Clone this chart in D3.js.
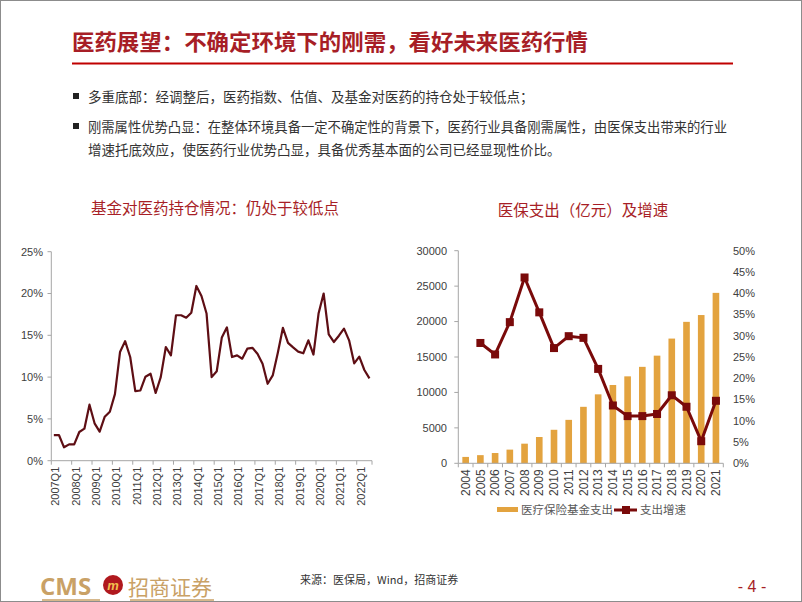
<!DOCTYPE html>
<html><head><meta charset="utf-8">
<script src="https://cdn.jsdelivr.net/npm/d3@7"></script>
<style>
html,body{margin:0;padding:0;background:#fff;}
svg{display:block;}
</style></head>
<body>
<svg id="c" width="802" height="602"></svg>
<script>
// ---------- DATA ----------
const quarters = [
"2007Q1","2007Q2","2007Q3","2007Q4","2008Q1","2008Q2","2008Q3","2008Q4",
"2009Q1","2009Q2","2009Q3","2009Q4","2010Q1","2010Q2","2010Q3","2010Q4",
"2011Q1","2011Q2","2011Q3","2011Q4","2012Q1","2012Q2","2012Q3","2012Q4",
"2013Q1","2013Q2","2013Q3","2013Q4","2014Q1","2014Q2","2014Q3","2014Q4",
"2015Q1","2015Q2","2015Q3","2015Q4","2016Q1","2016Q2","2016Q3","2016Q4",
"2017Q1","2017Q2","2017Q3","2017Q4","2018Q1","2018Q2","2018Q3","2018Q4",
"2019Q1","2019Q2","2019Q3","2019Q4","2020Q1","2020Q2","2020Q3","2020Q4",
"2021Q1","2021Q2","2021Q3","2021Q4","2022Q1","2022Q2","2022Q3"];
const fundHolding = [
3.07,3.07,1.6,1.95,1.95,3.43,3.83,6.7,
4.47,3.47,5.26,5.86,7.97,13.0,14.3,12.4,
8.33,8.4,10.05,10.4,8.1,10.0,13.6,12.6,
17.4,17.4,17.1,17.7,20.9,19.7,17.6,10.0,
10.7,14.75,15.95,12.4,12.6,12.2,13.4,13.5,
12.8,11.6,9.2,10.2,12.9,15.9,14.1,13.55,
13.05,12.85,14.4,12.7,17.6,20.0,15.1,14.2,
14.95,15.8,14.4,11.65,12.45,10.85,9.85];
const leftTicks = ["0%","5%","10%","15%","20%","25%"];

const years = ["2004","2005","2006","2007","2008","2009","2010","2011","2012",
"2013","2014","2015","2016","2017","2018","2019","2020","2021"];
const spending = [900,1150,1450,1930,2770,3710,4730,6130,7970,
9730,11050,12270,13610,15190,17600,19960,20920,24050];
const growth = [null,28.3,25.6,33.2,43.7,35.5,27.1,29.9,29.5,
22.2,13.6,11.1,11.1,11.6,16.0,13.3,5.2,14.7];
const spendTicks = [0,5000,10000,15000,20000,25000,30000];
const growthTicks = ["0%","5%","10%","15%","20%","25%","30%","35%","40%","45%","50%"];

const titleText = "医药展望：不确定环境下的刚需，看好未来医药行情";
const bullet1 = "多重底部：经调整后，医药指数、估值、及基金对医药的持仓处于较低点；";
const bullet2a = "刚需属性优势凸显：在整体环境具备一定不确定性的背景下，医药行业具备刚需属性，由医保支出带来的行业";
const bullet2b = "增速托底效应，使医药行业优势凸显，具备优秀基本面的公司已经显现性价比。";
const leftTitle = "基金对医药持仓情况：仍处于较低点";
const rightTitle = "医保支出（亿元）及增速";
const legendBar = "医疗保险基金支出";
const legendLine = "支出增速";
const sourceText = "来源：医保局，Wind，招商证券";

// ---------- STYLE ----------
const red = "#A71E26";
const cjk = "'Noto Sans CJK SC', sans-serif";
const latin = "'Liberation Sans', Arial, sans-serif";
const axisGray = "#A6A6A6";
const labelColor = "#404040";

const svg = d3.select("#c");
svg.append("rect").attr("x",0.5).attr("y",0.5).attr("width",801).attr("height",601)
  .attr("fill","#fff").attr("stroke","#8c8c8c");

// Header
svg.append("text").attr("x",72).attr("y",50).text(titleText)
  .attr("font-family",cjk).attr("font-weight","bold").attr("font-size",22)
  .attr("fill",red).attr("textLength",516).attr("lengthAdjust","spacingAndGlyphs");
svg.append("line").attr("x1",72).attr("x2",733).attr("y1",63.5).attr("y2",63.5)
  .attr("stroke","#C00000").attr("stroke-width",2);

function bullet(y){
  svg.append("rect").attr("x",73).attr("y",y-4).attr("width",6).attr("height",6).attr("fill","#222");
}
const bodyStyle = s => s.attr("font-family",cjk).attr("font-size",13.5).attr("fill","#333");
bullet(97);
svg.append("text").attr("x",88).attr("y",102).text(bullet1).call(bodyStyle);
bullet(127);
svg.append("text").attr("x",88).attr("y",132).text(bullet2a).call(bodyStyle)
  .attr("textLength",639).attr("lengthAdjust","spacingAndGlyphs");
svg.append("text").attr("x",88).attr("y",155).text(bullet2b).call(bodyStyle);

// Chart titles
svg.append("text").attr("x",215).attr("y",214).attr("text-anchor","middle").text(leftTitle)
  .attr("font-family",cjk).attr("font-size",15.5).attr("fill",red);
svg.append("text").attr("x",583).attr("y",216).attr("text-anchor","middle").text(rightTitle)
  .attr("font-family",cjk).attr("font-size",15.5).attr("fill",red);

// ---------- LEFT CHART ----------
const xL = d3.scaleBand().domain(quarters).range([51.3, 372]).padding(0);
const yL = d3.scaleLinear().domain([0, 25]).range([460.7, 251.7]);
const gL = svg.append("g");
// y axis
gL.append("line").attr("x1",51.3).attr("x2",51.3).attr("y1",yL(25)).attr("y2",yL(0)).attr("stroke",axisGray);
leftTicks.forEach(t=>{
  const v = parseFloat(t);
  gL.append("line").attr("x1",47.5).attr("x2",51.3).attr("y1",yL(v)).attr("y2",yL(v)).attr("stroke",axisGray);
  gL.append("text").attr("x",43).attr("y",yL(v)).attr("dy","0.35em").attr("text-anchor","end")
    .text(t).attr("font-family",latin).attr("font-size",11).attr("fill",labelColor);
});
// x axis
gL.append("line").attr("x1",51.3).attr("x2",372).attr("y1",yL(0)).attr("y2",yL(0)).attr("stroke",axisGray);
quarters.forEach((q,i)=>{
  if(i%4===0){
    const x = xL(q);
    gL.append("line").attr("x1",x).attr("x2",x).attr("y1",yL(0)).attr("y2",yL(0)+4).attr("stroke",axisGray);
    const cx = x + xL.bandwidth()/2 + 1.5;
    gL.append("text").attr("transform",`translate(${cx},${yL(0)+6}) rotate(-90)`)
      .attr("text-anchor","end").attr("dy","0.35em").text(q)
      .attr("font-family",latin).attr("font-size",11).attr("fill",labelColor);
  }
});
gL.append("line").attr("x1",372).attr("x2",372).attr("y1",yL(0)).attr("y2",yL(0)+4).attr("stroke",axisGray);
const lineL = d3.line().x((d,i)=>xL(quarters[i])+xL.bandwidth()/2).y(d=>yL(d));
gL.append("path").datum(fundHolding).attr("d",lineL).attr("fill","none")
  .attr("stroke","#5E0E14").attr("stroke-width",2.2).attr("stroke-linejoin","round");

// ---------- RIGHT CHART ----------
const x0 = 458.3, x1 = 723.3, yBase = 463.3, yTop = 250.7;
const xR = d3.scaleBand().domain(years).range([x0, x1]).paddingInner(0.55).paddingOuter(0.275);
const yS = d3.scaleLinear().domain([0, 30000]).range([yBase, yTop]);
const yG = d3.scaleLinear().domain([0, 50]).range([yBase, yTop]);
const gR = svg.append("g");
// left y axis
gR.append("line").attr("x1",x0).attr("x2",x0).attr("y1",yTop).attr("y2",yBase).attr("stroke",axisGray);
spendTicks.forEach(v=>{
  gR.append("line").attr("x1",x0-4).attr("x2",x0).attr("y1",yS(v)).attr("y2",yS(v)).attr("stroke",axisGray);
  gR.append("text").attr("x",447).attr("y",yS(v)).attr("dy","0.35em").attr("text-anchor","end")
    .text(v).attr("font-family",latin).attr("font-size",11).attr("fill",labelColor);
});
// right y labels
growthTicks.forEach(t=>{
  const v = parseFloat(t);
  gR.append("text").attr("x",733).attr("y",yG(v)).attr("dy","0.35em").attr("text-anchor","start")
    .text(t).attr("font-family",latin).attr("font-size",11).attr("fill",labelColor);
});
// bars
gR.selectAll("rect.bar").data(spending).enter().append("rect").attr("class","bar")
  .attr("x",(d,i)=>xR(years[i])).attr("width",xR.bandwidth())
  .attr("y",d=>yS(d)).attr("height",d=>yBase-yS(d)).attr("fill","#E3A33F");
// x axis
gR.append("line").attr("x1",x0).attr("x2",x1).attr("y1",yBase).attr("y2",yBase).attr("stroke",axisGray);
const step = xR.step();
years.forEach((yr,i)=>{
  const bx = x0 + i*step;
  gR.append("line").attr("x1",bx).attr("x2",bx).attr("y1",yBase).attr("y2",yBase+4).attr("stroke",axisGray);
  const cx = xR(yr) + xR.bandwidth()/2;
  gR.append("text").attr("transform",`translate(${cx},${yBase+6}) rotate(-90)`)
    .attr("text-anchor","end").attr("dy","0.35em").text(yr)
    .attr("font-family",latin).attr("font-size",12).attr("fill",labelColor);
});
gR.append("line").attr("x1",x1).attr("x2",x1).attr("y1",yBase).attr("y2",yBase+4).attr("stroke",axisGray);
// growth line
const pts = growth.map((g,i)=>({g, x: xR(years[i])+xR.bandwidth()/2})).filter(p=>p.g!==null);
const lineR = d3.line().x(p=>p.x).y(p=>yG(p.g));
gR.append("path").datum(pts).attr("d",lineR).attr("fill","none")
  .attr("stroke","#7A0A0A").attr("stroke-width",3).attr("stroke-linejoin","round");
gR.selectAll("rect.mk").data(pts).enter().append("rect").attr("class","mk")
  .attr("x",p=>p.x-4).attr("y",p=>yG(p.g)-4).attr("width",8).attr("height",8).attr("fill","#7A0A0A");
// legend
gR.append("rect").attr("x",497).attr("y",507).attr("width",21).attr("height",5).attr("fill","#E3A33F");
gR.append("text").attr("x",521).attr("y",510).attr("dy","0.35em").text(legendBar)
  .attr("font-family",cjk).attr("font-size",11.5).attr("fill","#595959");
gR.append("line").attr("x1",614).attr("x2",637).attr("y1",510).attr("y2",510).attr("stroke","#7A0A0A").attr("stroke-width",3);
gR.append("rect").attr("x",622).attr("y",506).attr("width",8).attr("height",8).attr("fill","#7A0A0A");
gR.append("text").attr("x",640).attr("y",510).attr("dy","0.35em").text(legendLine)
  .attr("font-family",cjk).attr("font-size",11.5).attr("fill","#595959");

// ---------- FOOTER ----------
const gold = "#C9A166";
svg.append("text").attr("x",40).attr("y",595).text("CMS")
  .attr("font-family","'Open Sans', sans-serif").attr("font-weight","bold").attr("font-size",24).attr("fill",gold);
svg.append("circle").attr("cx",113).attr("cy",585).attr("r",10).attr("fill","#B0191E");
svg.append("text").attr("x",113).attr("y",585).attr("dy","0.35em").attr("text-anchor","middle").text("m")
  .attr("font-family",latin).attr("font-weight","bold").attr("font-style","italic").attr("font-size",13).attr("fill","#F2C14E");
svg.append("text").attr("x",128).attr("y",595).text("招商证券")
  .attr("font-family",cjk).attr("font-size",21).attr("fill",gold);
svg.append("line").attr("x1",42).attr("x2",100).attr("y1",600).attr("y2",600).attr("stroke",gold).attr("stroke-width",1.5);
svg.append("line").attr("x1",130).attr("x2",214).attr("y1",600).attr("y2",600).attr("stroke",gold).attr("stroke-width",1.5);
svg.append("text").attr("x",300).attr("y",584).text(sourceText)
  .attr("font-family",cjk).attr("font-size",11).attr("fill","#333");
svg.append("text").attr("x",752).attr("y",592).attr("text-anchor","middle").text("- 4 -")
  .attr("font-family",latin).attr("font-size",16).attr("fill",red);
</script>
</body></html>
